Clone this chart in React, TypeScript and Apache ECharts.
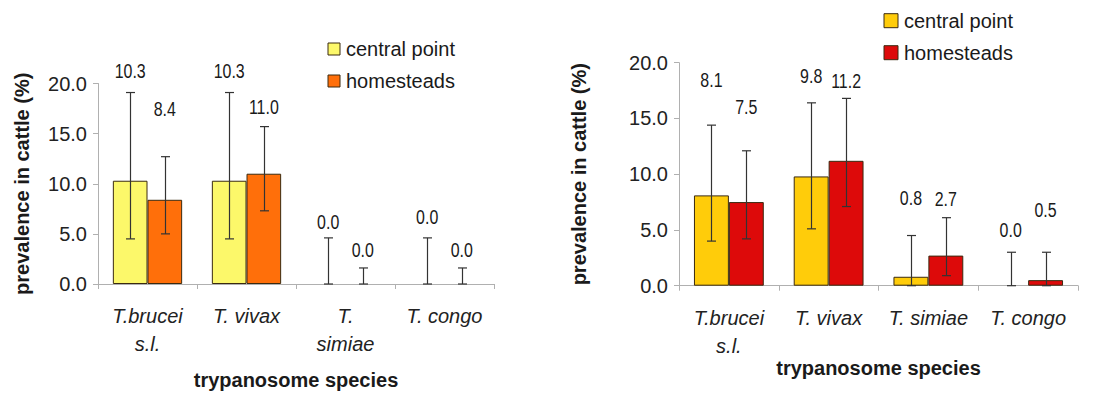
import React, { useEffect, useRef } from "react";
import * as echarts from "echarts";

// ---- data ----
const categoriesLeft = ["T.brucei\ns.l.", "T. vivax", "T.\nsimiae", "T. congo"];
const categoriesRight = ["T.brucei\ns.l.", "T. vivax", "T. simiae", "T. congo"];
const seriesNames = ["central point", "homesteads"];
const yTicks = [0, 5, 10, 15, 20];

const leftCentral = [10.3, 10.3, 0.0, 0.0];
const leftHome = [8.4, 11.0, 0.0, 0.0];
const leftCentralLow = [4.5, 4.5, 0.0, 0.0];
const leftCentralHigh = [19.1, 19.1, 4.6, 4.6];
const leftHomeLow = [5.0, 7.3, 0.0, 0.0];
const leftHomeHigh = [12.7, 15.7, 1.6, 1.6];
const leftCentralLabelAt = [21.3, 21.3, 6.2, 6.7];
const leftHomeLabelAt = [17.5, 17.7, 3.4, 3.4];

const rightCentral = [8.1, 9.8, 0.8, 0.0];
const rightHome = [7.5, 11.2, 2.7, 0.5];
const rightCentralLow = [4.0, 5.1, 0.0, 0.0];
const rightCentralHigh = [14.4, 16.4, 4.5, 3.0];
const rightHomeLow = [4.2, 7.1, 0.9, 0.0];
const rightHomeHigh = [12.1, 16.8, 6.1, 3.0];
const rightCentralLabelAt = [18.5, 18.8, 7.9, 5.0];
const rightHomeLabelAt = [16.1, 18.4, 7.8, 6.8];

const leftColors = ["#FCF86A", "#FF6F0A"];
const rightColors = ["#FFCC0A", "#DD0A0A"];

const FONT = "'Liberation Sans', Arial, sans-serif";
const BAR_FRAC = 0.35;

function errorSeries(gridIdx: number, side: number, low: number[], high: number[]) {
  return {
    type: "custom",
    xAxisIndex: gridIdx,
    yAxisIndex: gridIdx,
    clip: false,
    z: 5,
    silent: true,
    data: low.map((l, i) => [i, l, high[i]]),
    encode: { x: 0, y: [1, 2] },
    renderItem: (params: any, api: any) => {
      const cat = api.value(0);
      const lo = api.value(1);
      const hi = api.value(2);
      const band = api.size([1, 0])[0];
      const off = band * side * (BAR_FRAC / 2);
      const top = api.coord([cat, hi]);
      const bot = api.coord([cat, lo]);
      const x = Math.round(top[0] + off) + 0.5;
      const cap = 4.5;
      const st = { stroke: "#333", lineWidth: 1.2 };
      return {
        type: "group",
        children: [
          { type: "line", shape: { x1: x, y1: top[1], x2: x, y2: bot[1] }, style: st },
          { type: "line", shape: { x1: x - cap, y1: top[1], x2: x + cap, y2: top[1] }, style: st },
          { type: "line", shape: { x1: x - cap, y1: bot[1], x2: x + cap, y2: bot[1] }, style: st },
        ],
      };
    },
  };
}

function labelSeries(gridIdx: number, side: number, values: number[], at: number[]) {
  return {
    type: "custom",
    xAxisIndex: gridIdx,
    yAxisIndex: gridIdx,
    clip: false,
    z: 6,
    silent: true,
    data: values.map((v, i) => [i, at[i], v]),
    encode: { x: 0, y: 1 },
    renderItem: (params: any, api: any) => {
      const cat = api.value(0);
      const y = api.value(1);
      const v = api.value(2);
      const band = api.size([1, 0])[0];
      const off = band * side * (BAR_FRAC / 2);
      const p = api.coord([cat, y]);
      return {
        type: "text",
        x: p[0] + off,
        y: p[1],
        scaleX: 0.76,
        style: {
          text: Number(v).toFixed(1),
          fill: "#1a1a1a",
          font: `21px ${FONT}`,
          align: "center",
          verticalAlign: "middle",
        },
      };
    },
  };
}

function barSeries(gridIdx: number, name: string, values: number[], color: string) {
  return {
    type: "bar",
    name,
    xAxisIndex: gridIdx,
    yAxisIndex: gridIdx,
    data: values.map((v) => (v === 0 ? { value: v, itemStyle: { borderWidth: 0 } } : v)),
    barWidth: `${BAR_FRAC * 100}%`,
    barGap: "0%",
    itemStyle: { color, borderColor: "#3a2a10", borderWidth: 1 },
  };
}

function xAxis(gridIdx: number, cats: string[], nameGap: number) {
  return {
    type: "category",
    gridIndex: gridIdx,
    data: cats,
    boundaryGap: true,
    axisLine: { lineStyle: { color: "#b0b0b0", width: 1 } },
    axisTick: { show: true, alignWithLabel: false, length: 5, lineStyle: { color: "#b0b0b0" } },
    axisLabel: {
      interval: 0,
      margin: 18,
      fontFamily: FONT,
      fontStyle: "italic",
      fontSize: 20,
      lineHeight: 28,
      color: "#222",
    },
    name: "trypanosome species",
    nameLocation: "middle",
    nameGap,
    nameMoveOverlap: false,
    nameTextStyle: { fontFamily: FONT, fontWeight: "bold", fontSize: 20, color: "#1a1a1a" },
  };
}

function yAxis(gridIdx: number, nameGap: number) {
  return {
    type: "value",
    gridIndex: gridIdx,
    min: yTicks[0],
    max: yTicks[yTicks.length - 1],
    interval: 5,
    splitLine: { show: false },
    axisLine: { show: true, lineStyle: { color: "#b0b0b0", width: 1 } },
    axisTick: { show: true, length: 5, lineStyle: { color: "#b0b0b0" } },
    axisLabel: {
      margin: 11,
      fontFamily: FONT,
      fontSize: 20,
      color: "#222",
      formatter: (v: number) => v.toFixed(1),
    },
    name: "prevalence in cattle (%)",
    nameLocation: "middle",
    nameGap,
    nameMoveOverlap: false,
    nameTextStyle: { fontFamily: FONT, fontWeight: "bold", fontSize: 20, color: "#1a1a1a" },
  };
}

function legendGraphic(x: number, y: number, size: number, colors: string[]) {
  const children: any[] = [];
  seriesNames.forEach((n, i) => {
    const cy = y + i * 32;
    children.push({
      type: "rect",
      shape: { x: x, y: cy - size / 2, width: size, height: size },
      style: { fill: colors[i], stroke: "#3a2a10", lineWidth: 1 },
    });
    children.push({
      type: "text",
      x: x + size + 6,
      y: cy,
      style: { text: n, font: `20px ${FONT}`, fill: "#1a1a1a", verticalAlign: "middle", align: "left" },
    });
  });
  return { type: "group", children };
}

export default function App() {
  const ref = useRef<HTMLDivElement>(null);
  useEffect(() => {
    if (!ref.current) return;
    const chart = echarts.init(ref.current, undefined, { renderer: "svg" });
    chart.setOption({
      animation: false,
      backgroundColor: "#ffffff",
      grid: [
        { left: 98, top: 83.5, width: 396, height: 200.5 },
        { left: 679, top: 62.7, width: 399, height: 223 },
      ],
      xAxis: [xAxis(0, categoriesLeft, 86), xAxis(1, categoriesRight, 72)],
      yAxis: [yAxis(0, 66), yAxis(1, 90)],
      series: [
        barSeries(0, seriesNames[0], leftCentral, leftColors[0]),
        barSeries(0, seriesNames[1], leftHome, leftColors[1]),
        barSeries(1, seriesNames[0], rightCentral, rightColors[0]),
        barSeries(1, seriesNames[1], rightHome, rightColors[1]),
        errorSeries(0, -1, leftCentralLow, leftCentralHigh),
        errorSeries(0, 1, leftHomeLow, leftHomeHigh),
        errorSeries(1, -1, rightCentralLow, rightCentralHigh),
        errorSeries(1, 1, rightHomeLow, rightHomeHigh),
        labelSeries(0, -1, leftCentral, leftCentralLabelAt),
        labelSeries(0, 1, leftHome, leftHomeLabelAt),
        labelSeries(1, -1, rightCentral, rightCentralLabelAt),
        labelSeries(1, 1, rightHome, rightHomeLabelAt),
      ],
      graphic: [legendGraphic(328, 49, 12, leftColors), legendGraphic(884, 20.7, 14, rightColors)],
    });
    return () => chart.dispose();
  }, []);
  return (
    <div
      ref={ref}
      style={{ position: "fixed", left: 0, top: 0, width: 1105, height: 398, background: "#fff" }}
    />
  );
}
